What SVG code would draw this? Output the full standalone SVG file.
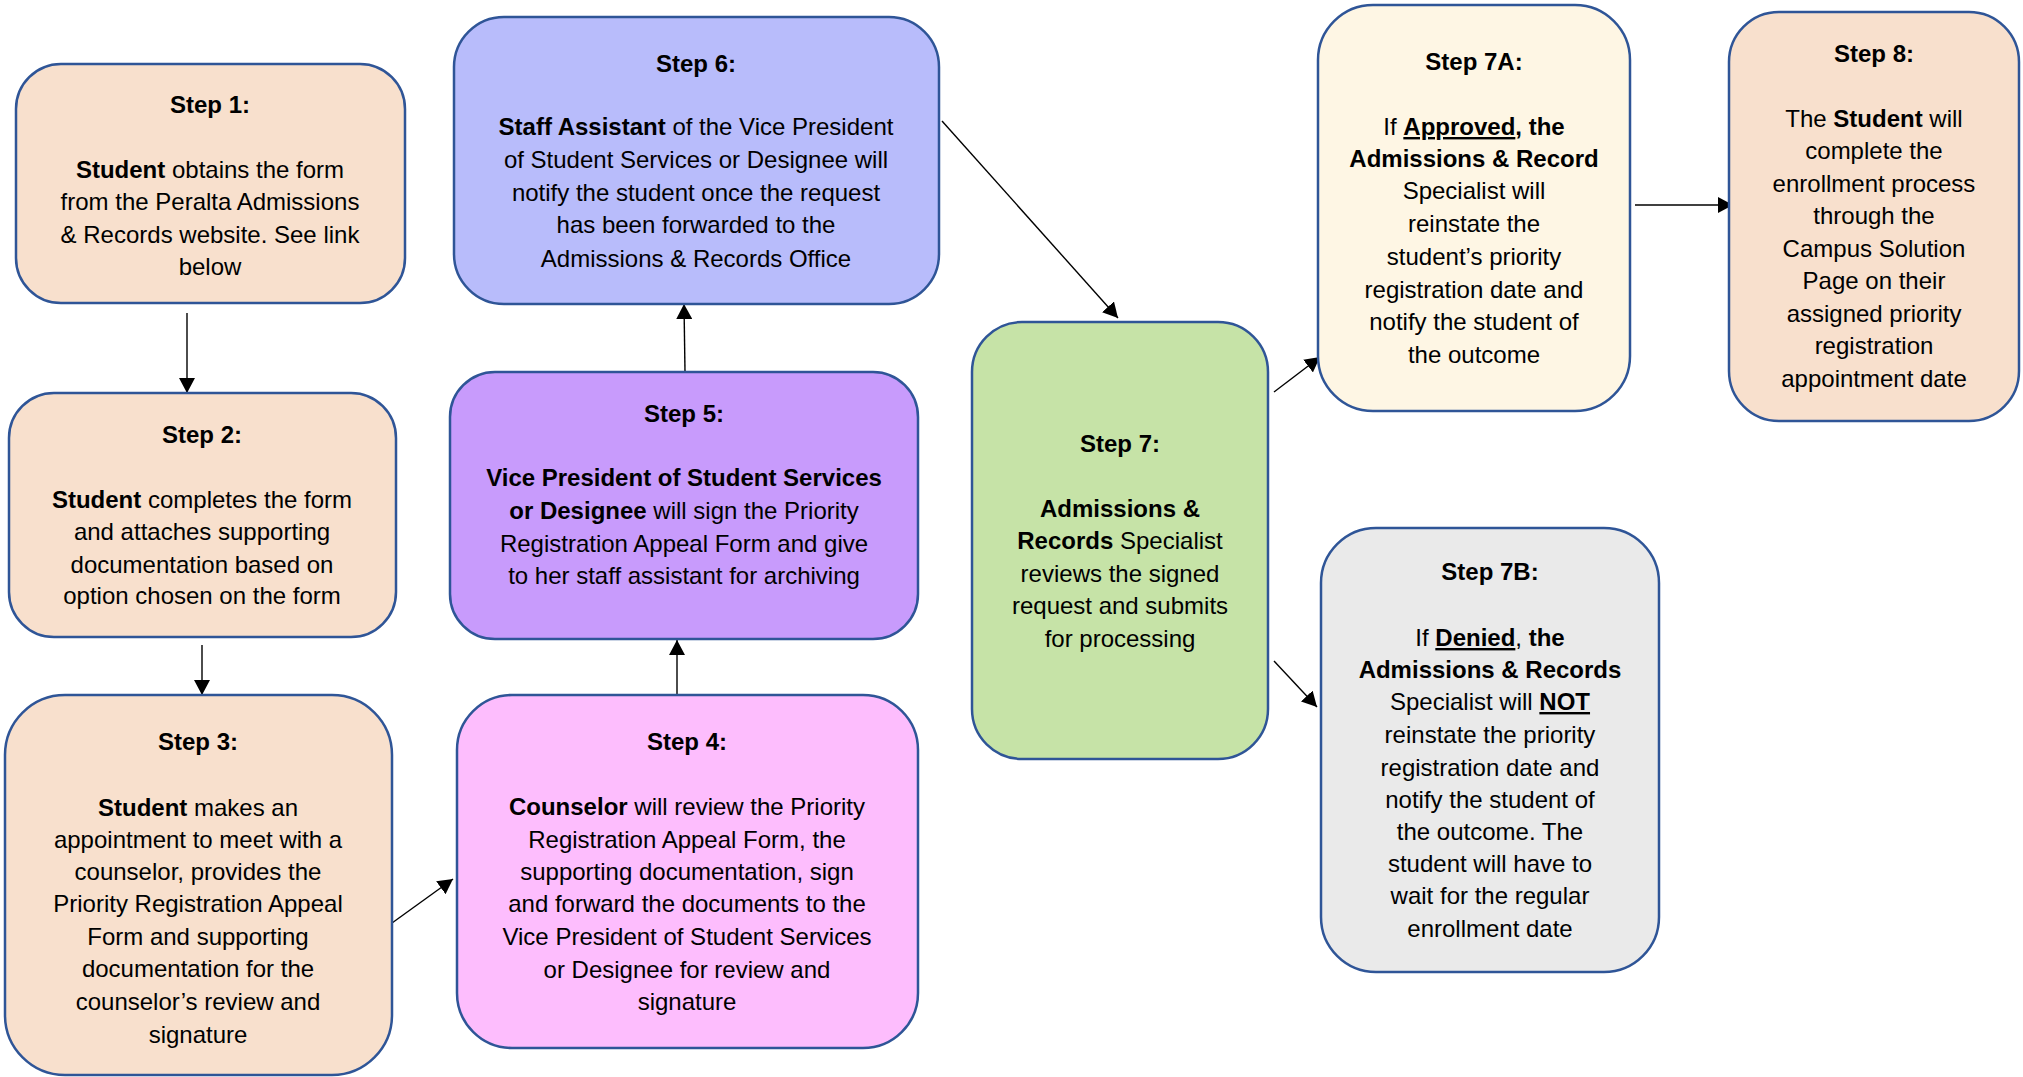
<svg xmlns="http://www.w3.org/2000/svg" width="2023" height="1077" viewBox="0 0 2023 1077">
<style>
.box{stroke:#2F5597;stroke-width:2.5}
.t{font-family:"Liberation Sans",Arial,sans-serif;font-size:24px;fill:#000;text-anchor:middle}
.b{font-weight:bold}
.u{text-decoration:underline}
.c{stroke:#000;stroke-width:1.4;fill:none;marker-end:url(#ah)}
.peach{fill:#F8E0CD}
</style>
<defs>
<marker id="ah" markerUnits="userSpaceOnUse" markerWidth="16" markerHeight="16" refX="15" refY="8" orient="auto">
<path d="M0,0 L15,8 L0,16 z" fill="#000"/>
</marker>
</defs>
<rect width="2023" height="1077" fill="#fff"/>
<g id="connectors">
<line class="c" x1="187" y1="313" x2="187" y2="393"/>
<line class="c" x1="202" y1="645" x2="202" y2="695"/>
<line class="c" x1="392" y1="923" x2="453" y2="879"/>
<line class="c" x1="677" y1="697" x2="677" y2="640"/>
<line class="c" x1="685" y1="372" x2="684" y2="304"/>
<line class="c" x1="942" y1="121" x2="1118" y2="318"/>
<line class="c" x1="1274" y1="392" x2="1320" y2="357"/>
<line class="c" x1="1274" y1="661" x2="1317" y2="707"/>
<line class="c" x1="1635" y1="205" x2="1733" y2="205"/>
</g>
<g id="step1">
<rect class="box peach" x="16" y="64" width="389" height="239" rx="45"/>
<text class="t b" x="210" y="113">Step 1:</text>
<text class="t" x="210" y="178"><tspan class="b">Student</tspan> obtains the form</text>
<text class="t" x="210" y="210">from the Peralta Admissions</text>
<text class="t" x="210" y="243">&amp; Records website. See link</text>
<text class="t" x="210" y="275">below</text>
</g>
<g id="step2">
<rect class="box peach" x="9" y="393" width="387" height="244" rx="45"/>
<text class="t b" x="202" y="443">Step 2:</text>
<text class="t" x="202" y="508"><tspan class="b">Student</tspan> completes the form</text>
<text class="t" x="202" y="540">and attaches supporting</text>
<text class="t" x="202" y="573">documentation based on</text>
<text class="t" x="202" y="604">option chosen on the form</text>
</g>
<g id="step3">
<rect class="box peach" x="5" y="695" width="387" height="380" rx="60"/>
<text class="t b" x="198" y="750">Step 3:</text>
<text class="t" x="198" y="816"><tspan class="b">Student</tspan> makes an</text>
<text class="t" x="198" y="848">appointment to meet with a</text>
<text class="t" x="198" y="880">counselor, provides the</text>
<text class="t" x="198" y="912">Priority Registration Appeal</text>
<text class="t" x="198" y="945">Form and supporting</text>
<text class="t" x="198" y="977">documentation for the</text>
<text class="t" x="198" y="1010">counselor’s review and</text>
<text class="t" x="198" y="1043">signature</text>
</g>
<g id="step4">
<rect class="box" fill="#FDBDFD" x="457" y="695" width="461" height="353" rx="55"/>
<text class="t b" x="687" y="750">Step 4:</text>
<text class="t" x="687" y="815"><tspan class="b">Counselor</tspan> will review the Priority</text>
<text class="t" x="687" y="848">Registration Appeal Form, the</text>
<text class="t" x="687" y="880">supporting documentation, sign</text>
<text class="t" x="687" y="912">and forward the documents to the</text>
<text class="t" x="687" y="945">Vice President of Student Services</text>
<text class="t" x="687" y="978">or Designee for review and</text>
<text class="t" x="687" y="1010">signature</text>
</g>
<g id="step5">
<rect class="box" fill="#C89BFC" x="450" y="372" width="468" height="267" rx="45"/>
<text class="t b" x="684" y="422">Step 5:</text>
<text class="t b" x="684" y="486">Vice President of Student Services</text>
<text class="t" x="684" y="519"><tspan class="b">or Designee</tspan> will sign the Priority</text>
<text class="t" x="684" y="552">Registration Appeal Form and give</text>
<text class="t" x="684" y="584">to her staff assistant for archiving</text>
</g>
<g id="step6">
<rect class="box" fill="#B8BCFB" x="454" y="17" width="485" height="287" rx="50"/>
<text class="t b" x="696" y="72">Step 6:</text>
<text class="t" x="696" y="135"><tspan class="b">Staff Assistant</tspan> of the Vice President</text>
<text class="t" x="696" y="168">of Student Services or Designee will</text>
<text class="t" x="696" y="201">notify the student once the request</text>
<text class="t" x="696" y="233">has been forwarded to the</text>
<text class="t" x="696" y="267">Admissions &amp; Records Office</text>
</g>
<g id="step7">
<rect class="box" fill="#C6E3A7" x="972" y="322" width="296" height="437" rx="50"/>
<text class="t b" x="1120" y="452">Step 7:</text>
<text class="t b" x="1120" y="517">Admissions &amp;</text>
<text class="t" x="1120" y="549"><tspan class="b">Records</tspan> Specialist</text>
<text class="t" x="1120" y="582">reviews the signed</text>
<text class="t" x="1120" y="614">request and submits</text>
<text class="t" x="1120" y="647">for processing</text>
</g>
<g id="step7a">
<rect class="box" fill="#FEF6E4" x="1318" y="5" width="312" height="406" rx="55"/>
<text class="t b" x="1474" y="70">Step 7A:</text>
<text class="t" x="1474" y="135">If <tspan class="b u">Approved</tspan><tspan class="b">, the</tspan></text>
<text class="t b" x="1474" y="167">Admissions &amp; Record</text>
<text class="t" x="1474" y="199">Specialist will</text>
<text class="t" x="1474" y="232">reinstate the</text>
<text class="t" x="1474" y="265">student’s priority</text>
<text class="t" x="1474" y="298">registration date and</text>
<text class="t" x="1474" y="330">notify the student of</text>
<text class="t" x="1474" y="363">the outcome</text>
</g>
<g id="step7b">
<rect class="box" fill="#EAEAEA" x="1321" y="528" width="338" height="444" rx="55"/>
<text class="t b" x="1490" y="580">Step 7B:</text>
<text class="t" x="1490" y="646">If <tspan class="b u">Denied</tspan>, <tspan class="b">the</tspan></text>
<text class="t b" x="1490" y="678">Admissions &amp; Records</text>
<text class="t" x="1490" y="710">Specialist will <tspan class="b u">NOT</tspan></text>
<text class="t" x="1490" y="743">reinstate the priority</text>
<text class="t" x="1490" y="776">registration date and</text>
<text class="t" x="1490" y="808">notify the student of</text>
<text class="t" x="1490" y="840">the outcome. The</text>
<text class="t" x="1490" y="872">student will have to</text>
<text class="t" x="1490" y="904">wait for the regular</text>
<text class="t" x="1490" y="937">enrollment date</text>
</g>
<g id="step8">
<rect class="box peach" x="1729" y="12" width="290" height="409" rx="50"/>
<text class="t b" x="1874" y="62">Step 8:</text>
<text class="t" x="1874" y="127">The <tspan class="b">Student</tspan> will</text>
<text class="t" x="1874" y="159">complete the</text>
<text class="t" x="1874" y="192">enrollment process</text>
<text class="t" x="1874" y="224">through the</text>
<text class="t" x="1874" y="257">Campus Solution</text>
<text class="t" x="1874" y="289">Page on their</text>
<text class="t" x="1874" y="322">assigned priority</text>
<text class="t" x="1874" y="354">registration</text>
<text class="t" x="1874" y="387">appointment date</text>
</g>
</svg>
